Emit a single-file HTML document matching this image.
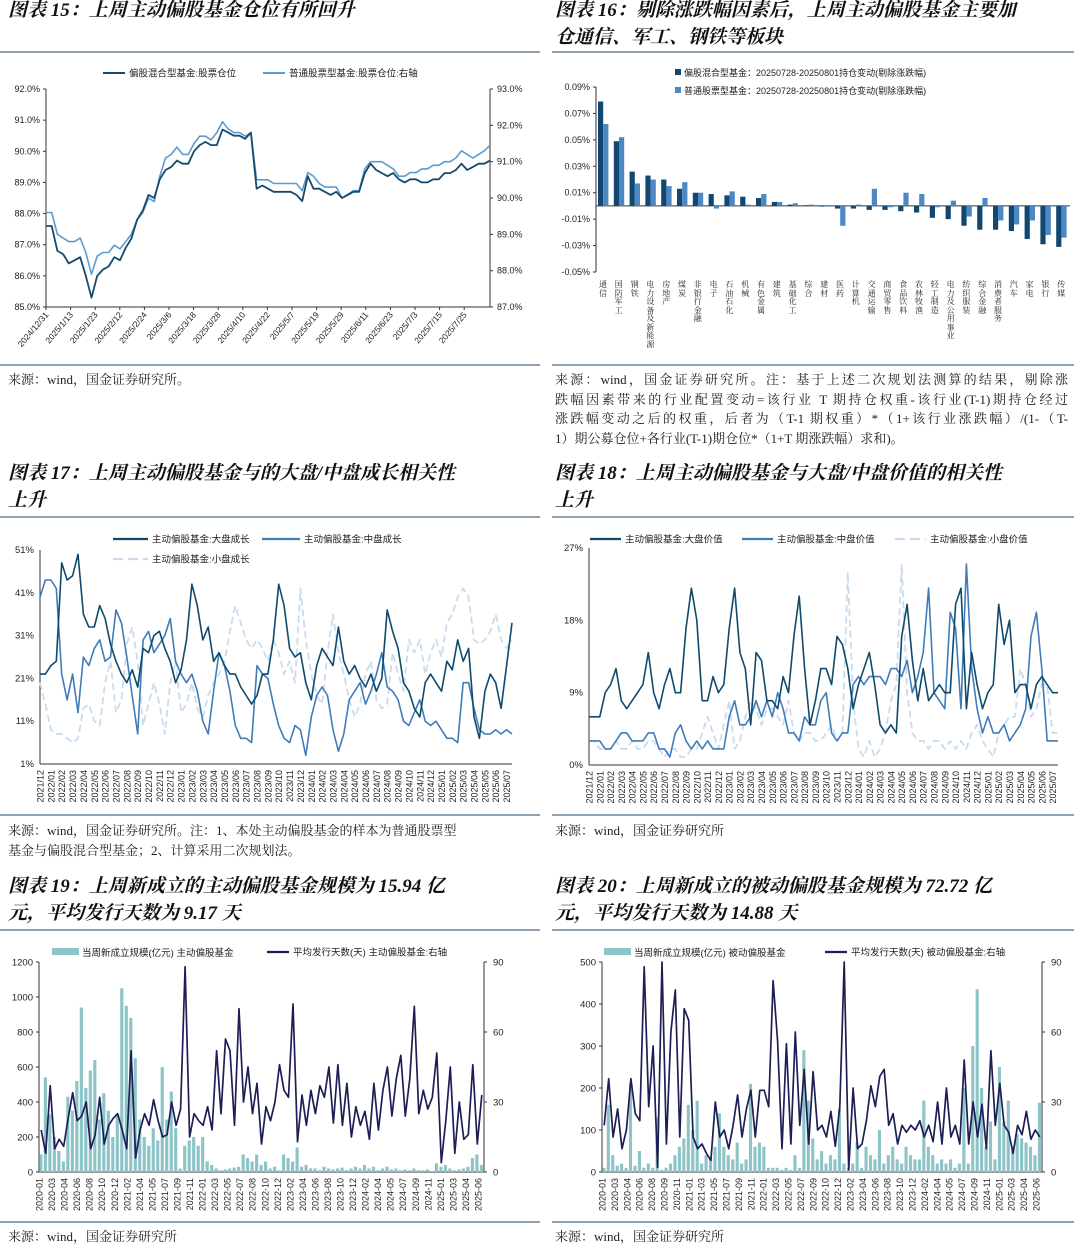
<!DOCTYPE html>
<html><head><meta charset="utf-8">
<style>
body{margin:0;background:#fff;width:1080px;height:1251px;position:relative;overflow:hidden;font-family:"Liberation Serif","Noto Serif CJK SC",serif;}
.t{position:absolute;font-size:19px;line-height:27px;font-weight:bold;font-style:italic;color:#111;font-family:"Liberation Serif","Noto Serif CJK SC",serif;white-space:nowrap;}
.s{position:absolute;font-size:13px;line-height:19.5px;color:#222;font-family:"Liberation Serif","Noto Serif CJK SC",serif;white-space:nowrap;}
.j{text-align:justify;text-align-last:justify;width:513px;}
.r{position:absolute;height:2px;background:#8ea2b3;}
.cl{position:absolute;width:9px;font-size:8px;line-height:8.5px;color:#222;font-family:"Noto Serif CJK SC",serif;text-align:center;}
svg{position:absolute;left:0;top:0;}
svg text{font-family:"Liberation Sans","Noto Sans CJK SC",sans-serif;fill:#222;}
</style></head><body>
<div class="t" style="left:8px;top:-3px">图表 15：上周主动偏股基金仓位有所回升</div>
<div class="t" style="left:555px;top:-3px">图表 16：剔除涨跌幅因素后，上周主动偏股基金主要加<br>仓通信、军工、钢铁等板块</div>
<div class="t" style="left:8px;top:460px">图表 17：上周主动偏股基金与的大盘/中盘成长相关性<br>上升</div>
<div class="t" style="left:555px;top:460px">图表 18：上周主动偏股基金与大盘/中盘价值的相关性<br>上升</div>
<div class="t" style="left:8px;top:873px">图表 19：上周新成立的主动偏股基金规模为 15.94 亿<br>元，平均发行天数为 9.17 天</div>
<div class="t" style="left:555px;top:873px">图表 20：上周新成立的被动偏股基金规模为 72.72 亿<br>元，平均发行天数为 14.88 天</div>

<div class="r" style="left:0;width:540px;top:51px"></div>
<div class="r" style="left:552px;width:522px;top:51px"></div>
<div class="r" style="left:0;width:540px;top:364px"></div>
<div class="r" style="left:552px;width:522px;top:364px"></div>
<div class="r" style="left:0;width:540px;top:516px"></div>
<div class="r" style="left:552px;width:522px;top:516px"></div>
<div class="r" style="left:0;width:540px;top:814px"></div>
<div class="r" style="left:552px;width:522px;top:814px"></div>
<div class="r" style="left:0;width:540px;top:929px"></div>
<div class="r" style="left:552px;width:522px;top:929px"></div>
<div class="r" style="left:0;width:540px;top:1221px"></div>
<div class="r" style="left:552px;width:522px;top:1221px"></div>

<div class="s" style="left:8px;top:370px">来源：wind，国金证券研究所。</div>
<div>
<div class="s j" style="left:555px;top:370px">来源：wind，国金证券研究所。注：基于上述二次规划法测算的结果，剔除涨</div>
<div class="s j" style="left:555px;top:389.5px">跌幅因素带来的行业配置变动=该行业 T 期持仓权重-该行业(T-1)期持仓经过</div>
<div class="s j" style="left:555px;top:409px">涨跌幅变动之后的权重，后者为（T-1 期权重）*（1+该行业涨跌幅）/(1-（T-</div>
<div class="s" style="left:555px;top:428.5px">1）期公募仓位+各行业(T-1)期仓位*（1+T 期涨跌幅）求和)。</div>
</div>
<div class="s" style="left:8px;top:821px">来源：wind，国金证券研究所。注：1、本处主动偏股基金的样本为普通股票型<br>基金与偏股混合型基金；2、计算采用二次规划法。</div>
<div class="s" style="left:555px;top:821px">来源：wind，国金证券研究所</div>
<div class="s" style="left:8px;top:1227px">来源：wind，国金证券研究所</div>
<div class="s" style="left:555px;top:1227px">来源：wind，国金证券研究所</div>

<svg id="cv" width="1080" height="1251"></svg>
<script>
// ---- Fig 15 data ----
const f15Dates=["2024/12/31","2025/1/13","2025/1/23","2025/2/12","2025/2/24","2025/3/6","2025/3/18","2025/3/28","2025/4/10","2025/4/22","2025/5/7","2025/5/19","2025/5/29","2025/6/11","2025/6/23","2025/7/3","2025/7/15","2025/7/25"];
const f15Hybrid=[87.6,87.6,86.8,86.7,86.4,86.5,86.6,86.0,85.3,86.0,86.2,86.3,86.6,86.5,86.9,87.2,87.8,88.1,88.6,88.5,89.1,89.4,89.5,89.7,89.6,89.6,90.0,90.2,90.3,90.2,90.2,90.7,90.6,90.5,90.5,90.4,90.6,88.8,88.9,88.8,88.7,88.7,88.7,88.7,88.6,88.4,89.2,88.8,88.8,88.7,88.6,88.7,88.5,88.6,88.7,88.7,89.3,89.6,89.4,89.3,89.2,89.3,89.1,89.0,89.1,89.1,89.0,89.0,89.1,89.1,89.3,89.3,89.4,89.6,89.4,89.5,89.6,89.6,89.7];
const f15Stock=[89.6,89.6,89.0,88.9,88.8,88.8,88.9,88.5,87.9,88.4,88.5,88.5,88.7,88.6,88.8,89.0,89.4,89.6,90.0,89.9,90.6,91.1,91.2,91.4,91.2,91.2,91.5,91.7,91.7,91.6,91.8,92.1,91.9,91.8,91.8,91.7,91.8,90.5,90.5,90.5,90.4,90.4,90.4,90.4,90.4,90.2,90.7,90.6,90.4,90.3,90.3,90.3,90.0,90.1,90.2,90.2,90.8,91.0,91.0,91.0,90.9,90.8,90.6,90.6,90.7,90.7,90.8,90.8,90.9,90.9,91.0,91.0,91.1,91.3,91.2,91.1,91.2,91.3,91.45];
const f15LeftTicks=[85,86,87,88,89,90,91,92];
const f15RightTicks=[87,88,89,90,91,92,93];
// ---- Fig 16 data (values in %) ----
const f16Cats=["通信","国防军工","钢铁","电力设备及新能源","房地产","煤炭","非银行金融","电子","石油石化","机械","有色金属","建筑","基础化工","综合","建材","医药","计算机","交通运输","商贸零售","食品饮料","农林牧渔","轻工制造","电力及公用事业","纺织服装","综合金融","消费者服务","汽车","家电","银行","传媒"];
const f16Hybrid=[0.079,0.049,0.026,0.023,0.020,0.013,0.010,0.009,0.008,0.007,0.006,0.003,0.001,0.0005,-0.0005,-0.002,-0.002,-0.003,-0.003,-0.004,-0.005,-0.009,-0.010,-0.015,-0.018,-0.018,-0.019,-0.025,-0.029,-0.031];
const f16Stock=[0.062,0.052,0.017,0.020,0.015,0.018,0.010,-0.002,0.011,0.001,0.009,0.003,0.002,0.001,-0.0005,-0.015,0.001,0.013,-0.001,0.010,0.009,-0.001,0.004,-0.008,0.006,-0.011,-0.014,-0.011,-0.022,-0.024];
const f16Ticks=[0.09,0.07,0.05,0.03,0.01,-0.01,-0.03,-0.05];
// ---- Fig 17 / 18 data ----
const monthLabels=["2021/12","2022/01","2022/02","2022/03","2022/04","2022/05","2022/06","2022/07","2022/08","2022/09","2022/10","2022/11","2022/12","2023/01","2023/02","2023/03","2023/04","2023/05","2023/06","2023/07","2023/08","2023/09","2023/10","2023/11","2023/12","2024/01","2024/02","2024/03","2024/04","2024/05","2024/06","2024/07","2024/08","2024/09","2024/10","2024/11","2024/12","2025/01","2025/02","2025/03","2025/04","2025/05","2025/06","2025/07"];
const f17Large=[22,22,24,25,48,44,45,50,36,33,33,38,35,29,25,22,20,23,19,28,27,31,32,28,25,20,23,30,43,38,30,33,25,27,24,22,22,19,17,15,17,22,22,30,43,38,28,26,27,20,16,24,28,26,24,33,25,22,24,21,19,22,18,21,37,32,28,20,18,14,12,20,22,20,18,25,23,30,25,28,12,7,18,22,20,14,24,34];
const f17Mid=[40,44,44,42,22,16,22,13,26,24,28,30,25,26,37,34,26,17,8,30,32,27,29,31,35,25,22,20,22,18,11,8,18,27,24,18,10,7,7,6,24,22,21,15,10,7,6,10,9,3,12,17,19,17,9,4,8,16,18,20,15,18,22,27,19,18,16,11,10,13,16,11,10,11,9,7,7,6,20,20,14,9,8,8,9,8,9,8];
const f17Small=[20,15,9,8,8,7,6,7,14,15,11,10,20,25,13,16,29,33,25,10,15,20,15,8,20,25,13,15,20,14,12,17,20,22,25,32,38,34,30,28,30,28,25,30,27,22,25,20,42,30,22,17,15,27,36,27,22,16,12,15,22,25,16,14,15,27,22,18,30,27,30,22,27,30,26,34,36,40,42,40,30,29,30,32,36,30,28,30];
const f17Ticks=[1,11,21,31,41,51];
const f18Large=[6,6,6,9,10,12,8,7,8,9,10,14,9,7,10,12,9,9,17,22,18,8,8,11,9,10,17,22,14,12,5,14,13,8,8,7,11,9,16,21,12,5,8,12,12,10,16,15,12,7,10,12,14,10,5,4,5,4,16,20,13,8,12,8,9,10,9,9,20,22,7,14,10,7,9,10,20,15,18,9,10,10,7,10,11,10,9,9];
const f18Mid=[3,3,3,2,2,3,4,4,3,3,3,4,4,2,2,1,4,5,3,2,3,2,3,2,2,2,6,8,5,5,6,8,6,8,6,9,7,4,4,3,6,5,5,8,9,4,3,4,4,10,11,10,11,11,11,10,12,12,11,13,9,11,14,22,9,8,7,19,17,7,25,12,7,4,6,4,4,5,3,4,5,7,16,19,12,3,3,3];
const f18Small=[3,3,2,2,2,3,2,2,3,2,2,3,3,2,1,2,2,1,1,2,2,4,6,4,2,5,8,2,3,6,8,7,5,7,7,6,5,8,4,3,4,4,3,3,4,5,3,4,24,8,2,1,3,1,2,4,8,10,25,9,4,3,3,2,3,3,2,3,2,3,2,4,5,3,2,1,4,5,6,6,12,10,6,7,10,10,4,4];
const f18Ticks=[0,9,18,27];
// ---- Fig 19 / 20 data ----
const f19Labels=["2020-01","2020-03","2020-04","2020-06","2020-08","2020-10","2020-12","2021-02","2021-04","2021-05","2021-07","2021-09","2021-11","2022-01","2022-03","2022-05","2022-07","2022-08","2022-10","2022-12","2023-02","2023-04","2023-06","2023-08","2023-10","2023-12","2024-02","2024-04","2024-05","2024-07","2024-09","2024-11","2025-01","2025-03","2025-04","2025-06"];
const f19Size=[100,540,330,200,120,60,430,350,520,940,480,580,640,300,450,350,200,330,1050,950,880,650,300,200,150,250,180,600,300,460,250,20,150,180,200,150,200,60,40,20,10,15,20,25,30,100,80,60,100,40,60,20,30,10,100,80,60,140,30,40,20,20,10,30,20,15,20,25,10,20,30,20,40,20,30,10,20,30,15,20,10,15,10,20,10,10,15,5,50,30,40,20,10,15,20,30,80,100,40];
const f19Days=[18,8,37,10,14,11,23,34,22,24,30,10,16,32,12,20,23,25,18,10,52,6,18,25,20,31,22,15,16,30,20,27,88,15,25,22,20,28,18,52,25,57,52,20,70,30,45,25,38,12,28,22,30,46,35,32,72,13,33,20,35,25,37,32,45,21,46,20,38,15,28,20,26,14,38,18,35,45,24,40,50,24,40,71,25,35,27,32,51,4,22,45,8,30,14,16,46,12,33];
const f19LeftTicks=[0,200,400,600,800,1000,1200];
const f19RightTicks=[0,30,60,90];
const f20Labels=["2020-01","2020-03","2020-04","2020-06","2020-08","2020-09","2020-11","2021-01","2021-03","2021-05","2021-07","2021-09","2021-11","2022-01","2022-03","2022-05","2022-07","2022-09","2022-10","2022-12","2023-02","2023-04","2023-06","2023-08","2023-10","2023-12","2024-02","2024-04","2024-05","2024-07","2024-09","2024-11","2025-01","2025-03","2025-04","2025-06"];
const f20Size=[10,160,40,15,20,10,210,15,50,10,20,10,130,5,10,20,40,60,80,160,100,170,20,40,30,60,140,60,40,30,70,20,30,210,60,70,60,10,10,10,5,10,5,40,10,290,170,80,30,50,20,40,30,150,20,10,20,70,10,60,40,30,100,20,40,60,30,20,60,40,30,30,170,60,40,20,30,20,30,10,20,200,20,300,435,200,60,120,30,250,120,170,60,90,80,70,60,40,165];
const f20Days=[20,40,15,27,10,18,40,25,22,88,28,54,2,90,12,60,78,15,70,65,15,10,12,8,5,30,15,18,10,20,33,15,27,35,15,35,35,28,82,56,10,55,12,60,20,44,12,43,18,20,15,26,11,28,90,1,36,10,12,22,37,28,41,44,20,25,12,20,17,20,18,22,15,20,13,30,12,36,15,20,12,48,12,30,15,29,10,52,20,38,20,17,8,20,16,26,14,18,15];
const f20LeftTicks=[0,100,200,300,400,500];
const f20RightTicks=[0,30,60,90];

const NS="http://www.w3.org/2000/svg";
const cv=document.getElementById('cv');
function mk(tag,attrs,parent){const e=document.createElementNS(NS,tag);for(const k in attrs)e.setAttribute(k,attrs[k]);(parent||cv).appendChild(e);return e;}
function txt(x,y,s,size,anchor,parent,extra){const e=mk('text',Object.assign({x:x,y:y,'font-size':size,'text-anchor':anchor||'start'},extra||{}),parent);e.textContent=s;return e;}
function lin(d0,d1,r0,r1){return v=>r0+(v-d0)/(d1-d0)*(r1-r0);}
function grp(name){const g=mk('g',{});return g;}
function poly(g,vals,xf,yf,color,w,dash,name){const pts=vals.map((v,i)=>xf(i).toFixed(1)+','+yf(v).toFixed(1)).join(' ');const p=mk('polyline',{points:pts,fill:'none',stroke:color,'stroke-width':w,'stroke-linejoin':'round'},g);if(dash)p.setAttribute('stroke-dasharray',dash);return p;}
function legLine(g,x,y,len,color,w,dash,label,name){const l=mk('line',{x1:x,y1:y,x2:x+len,y2:y,stroke:color,'stroke-width':w},g);if(dash)l.setAttribute('stroke-dasharray',dash);const t=txt(x+len+4,y+3.5,label,9.5,'start',g);}

// ===== Fig 15 =====
(function(){const g=grp('chart-fig15');
const X0=46,X1=490,Y0=89,Y1=307;
const yl=lin(85,92,Y1,Y0), yr=lin(87,93,Y1,Y0);
mk('line',{x1:X0,y1:Y0,x2:X0,y2:Y1,stroke:'#333','stroke-width':1},g);
mk('line',{x1:X1,y1:Y0,x2:X1,y2:Y1,stroke:'#333','stroke-width':1},g);
mk('line',{x1:X0,y1:Y1,x2:X1,y2:Y1,stroke:'#333','stroke-width':1},g);
f15LeftTicks.forEach(v=>{mk('line',{x1:X0-3,x2:X0,y1:yl(v),y2:yl(v),stroke:'#333'},g);const t=txt(X0-6,yl(v)+3,v.toFixed(1)+'%',9,'end',g);});
f15RightTicks.forEach(v=>{mk('line',{x1:X1,x2:X1+3,y1:yr(v),y2:yr(v),stroke:'#333'},g);const t=txt(X1+7,yr(v)+3,v.toFixed(1)+'%',9,'start',g);});
const step=24.6;
f15Dates.forEach((d,i)=>{const x=X0+i*step;mk('line',{x1:x,x2:x,y1:Y1,y2:Y1+3,stroke:'#333'},g);const t=txt(x+3,Y1+8,d,8.5,'end',g,{transform:'rotate(-50 '+(x+3)+' '+(Y1+8)+')'});});
const xs=n=>i=>X0+i*(X1-X0)/(n-1);
poly(g,f15Stock,xs(f15Stock.length),yr,'#5b9bd0',1.6,null,'line-stock-fund');
poly(g,f15Hybrid,xs(f15Hybrid.length),yl,'#164a6c',1.8,null,'line-hybrid-fund');
legLine(g,103,73,22,'#164a6c',2,null,'偏股混合型基金:股票仓位','legend-hybrid');
legLine(g,263,73,22,'#5b9bd0',2,null,'普通股票型基金:股票仓位:右轴','legend-stock');
})();

// ===== Fig 16 =====
(function(){const g=grp('chart-fig16');
const X0=596,X1=1070,Y0=87,Y1=272;
const y=lin(-0.05,0.09,Y1,Y0);
mk('line',{x1:X0,y1:Y0,x2:X0,y2:Y1,stroke:'#333'},g);
mk('line',{x1:X0,y1:y(0),x2:X1,y2:y(0),stroke:'#333'},g);
f16Ticks.forEach(v=>{mk('line',{x1:X0-3,x2:X0,y1:y(v),y2:y(v),stroke:'#333'},g);const t=txt(X0-6,y(v)+3,v.toFixed(2)+'%',9,'end',g);});
const band=(X1-X0)/f16Cats.length;
f16Cats.forEach((c,i)=>{const bx=X0+i*band+2;
 const a=f16Hybrid[i],b=f16Stock[i];
 const r1=mk('rect',{x:bx,y:Math.min(y(a),y(0)),width:5.2,height:Math.max(0.6,Math.abs(y(a)-y(0))),fill:'#124770'},g);
 const r2=mk('rect',{x:bx+5.2,y:Math.min(y(b),y(0)),width:5.2,height:Math.max(0.6,Math.abs(y(b)-y(0))),fill:'#4b88c4'},g);
 const d=document.createElement('div');d.className='cl';d.style.left=(bx+0.5)+'px';d.style.top='281px';
 d.innerHTML=c.split('').join('<br>');
 
 
 document.body.appendChild(d);
});
mk('rect',{x:675,y:69,width:6,height:6,fill:'#124770'},g);
txt(684,76,'偏股混合型基金：20250728-20250801持仓变动(剔除涨跌幅)',9,'start',g);
mk('rect',{x:675,y:87,width:6,height:6,fill:'#4b88c4'},g);
txt(684,94,'普通股票型基金：20250728-20250801持仓变动(剔除涨跌幅)',9,'start',g);
})();

// ===== multi-line chart helper (17,18) =====
function lineChart(name,X0,X1,Y0,Y1,dmin,dmax,ticks,series,legends){const g=grp(name);
 const y=lin(dmin,dmax,Y1,Y0);
 mk('line',{x1:X0,y1:Y0,x2:X0,y2:Y1,stroke:'#333'},g);
 mk('line',{x1:X0,y1:Y1,x2:X1,y2:Y1,stroke:'#333'},g);
 ticks.forEach(v=>{const t=txt(X0-6,y(v)+3,v+'%',9.5,'end',g);});
 const n=monthLabels.length, mstep=(X1-X0)/(n-0.5);
 monthLabels.forEach((m,i)=>{const x=X0+i*mstep+3.5;const t=txt(x,Y1+6,m,9,'end',g,{transform:'rotate(-90 '+x+' '+(Y1+6)+')'});});
 series.forEach(s=>{const xs=i=>X0+i*(X1-X0)/(s.v.length-1);poly(g,s.v,xs,y,s.c,s.w,s.d,s.n);});
 legends.forEach(l=>legLine(g,l.x,l.y,l.len,l.c,2.2,l.d,l.t,l.n));
}
lineChart('chart-fig17',40,512,550,764,1,51,f17Ticks,[
 {v:f17Small,c:'#c9dbee',w:1.8,d:'7,4',n:'line-small-growth'},
 {v:f17Mid,c:'#3f7cb8',w:1.6,n:'line-mid-growth'},
 {v:f17Large,c:'#0f4a6d',w:1.6,n:'line-large-growth'}],
 [{x:113,y:539,len:35,c:'#0f4a6d',t:'主动偏股基金:大盘成长',n:'legend-large'},
  {x:262,y:539,len:38,c:'#3f7cb8',t:'主动偏股基金:中盘成长',n:'legend-mid'},
  {x:113,y:559,len:35,c:'#c9dbee',d:'10,5',t:'主动偏股基金:小盘成长',n:'legend-small'}]);
lineChart('chart-fig18',589,1058,548,765,0,27,f18Ticks,[
 {v:f18Small,c:'#c9dbee',w:1.8,d:'7,4',n:'line-small-value'},
 {v:f18Mid,c:'#3f7cb8',w:1.6,n:'line-mid-value'},
 {v:f18Large,c:'#0f4a6d',w:1.6,n:'line-large-value'}],
 [{x:590,y:539,len:31,c:'#0f4a6d',t:'主动偏股基金:大盘价值',n:'legend-large'},
  {x:742,y:539,len:31,c:'#3f7cb8',t:'主动偏股基金:中盘价值',n:'legend-mid'},
  {x:895,y:539,len:31,c:'#c9dbee',d:'10,5',t:'主动偏股基金:小盘价值',n:'legend-small'}]);

// ===== bar+line helper (19,20) =====
function comboChart(name,X0,X1,Y0,Y1,lmax,lticks,rticks,labels,sizes,days,leg1,leg1x,leg2,leg2x){const g=grp(name);
 const yl=lin(0,lmax,Y1,Y0), yr=lin(0,90,Y1,Y0);
 mk('line',{x1:X0,y1:Y0,x2:X0,y2:Y1,stroke:'#333'},g);
 mk('line',{x1:X1,y1:Y0,x2:X1,y2:Y1,stroke:'#333'},g);
 mk('line',{x1:X0,y1:Y1,x2:X1,y2:Y1,stroke:'#333'},g);
 lticks.forEach(v=>{mk('line',{x1:X0-3,x2:X0,y1:yl(v),y2:yl(v),stroke:'#333'},g);const t=txt(X0-6,yl(v)+3.5,String(v),9.5,'end',g);});
 rticks.forEach(v=>{mk('line',{x1:X1,x2:X1+3,y1:yr(v),y2:yr(v),stroke:'#333'},g);const t=txt(X1+9,yr(v)+3.5,String(v),9.5,'start',g);});
 const n=sizes.length, bw=(X1-X0)/n;
 sizes.forEach((v,i)=>{const r=mk('rect',{x:X0+i*bw+0.3,y:yl(v),width:bw*0.7,height:Y1-yl(v),fill:'#8cc4c7'},g);});
 poly(g,days,i=>X0+(i+0.5)*bw,yr,'#1d1e55',1.7,null,'line-avg-days');
 const ls=(X1-X0-6)/(labels.length-1);
 labels.forEach((m,i)=>{const x=X0+i*ls+3.5;const t=txt(x,Y1+6,m,9,'end',g,{transform:'rotate(-90 '+x+' '+(Y1+6)+')'});});
 mk('rect',{x:leg1x,y:948,width:27,height:7,fill:'#8cc4c7'},g);
 const t1=txt(leg1x+30,956,leg1,9.5,'start',g);
 legLine(g,leg2x,952,22,'#1d1e55',2.2,null,leg2,'legend-days');
}
comboChart('chart-fig19',39,484,962,1172,1200,f19LeftTicks,f19RightTicks,f19Labels,f19Size,f19Days,'当周新成立规模(亿元) 主动偏股基金',52,'平均发行天数(天) 主动偏股基金:右轴',267);
comboChart('chart-fig20',602,1042,962,1172,500,f20LeftTicks,f20RightTicks,f20Labels,f20Size,f20Days,'当周新成立规模(亿元) 被动偏股基金',604,'平均发行天数(天) 被动偏股基金:右轴',825);
</script>
</body></html>
